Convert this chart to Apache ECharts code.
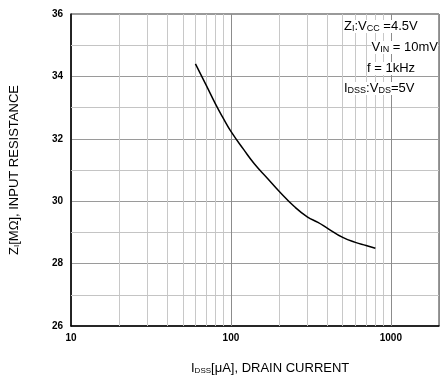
<!DOCTYPE html>
<html><head><meta charset="utf-8">
<script src="https://cdn.jsdelivr.net/npm/echarts@6/dist/echarts.min.js"></script>
<style>html,body{margin:0;padding:0;background:#fff}#c{width:440px;height:384px}</style>
</head><body><div id="c"></div>
<script>
// Data
const drainCurrent = [60, 70, 80, 90, 100, 120, 140, 170, 200, 250, 300, 350, 400, 500, 600, 700, 800];
const inputResistance = [34.4, 33.72, 33.12, 32.64, 32.24, 31.66, 31.2, 30.72, 30.32, 29.82, 29.5, 29.32, 29.14, 28.84, 28.68, 28.58, 28.49];
const xMajorGrid = [100, 1000];
const xMinorGrid = [20, 30, 40, 50, 60, 70, 80, 90, 200, 300, 400, 500, 600, 700, 800, 900];
const yMinorGrid = [27, 29, 31, 33, 35];
const xMin = 10, xMax = 2000, yMin = 26, yMax = 36, yInterval = 2;

const F = 'Liberation Sans, Arial, sans-serif';
const chart = echarts.init(document.getElementById('c'), null, {renderer: 'canvas'});

function vLines(vals, color) {
  return vals.map(v => ({xAxis: v, lineStyle: {color: color, width: 1, type: 'solid'}}));
}
function hLines(vals, color) {
  return vals.map(v => ({yAxis: v, lineStyle: {color: color, width: 1, type: 'solid'}}));
}

const sub = {fontSize: 9, fontFamily: F, color: '#000', verticalAlign: 'bottom', padding: [4, 0, 0, 0]};
const main = {fontSize: 13, fontFamily: F, color: '#000'};

chart.setOption({
  backgroundColor: '#fff',
  animation: false,
  grid: {left: 70, top: 14, right: 1, bottom: 58, show: true, borderColor: '#333', borderWidth: 1, backgroundColor: 'transparent'},
  xAxis: {
    type: 'log', logBase: 10, min: xMin, max: xMax,
    axisLine: {show: true, lineStyle: {color: '#000', width: 1.5}},
    axisTick: {show: false},
    splitLine: {show: true, lineStyle: {color: '#8c8c8c', width: 1}},
    axisLabel: {fontFamily: F, fontSize: 10, fontWeight: 'bold', color: '#000', margin: 7,
      formatter: v => String(Math.round(v)), showMaxLabel: false}
  },
  yAxis: {
    type: 'value', min: yMin, max: yMax, interval: yInterval,
    axisLine: {show: true, lineStyle: {color: '#000', width: 1.5}},
    axisTick: {show: false},
    splitLine: {show: true, lineStyle: {color: '#9a9a9a', width: 1}},
    axisLabel: {fontFamily: F, fontSize: 10, fontWeight: 'bold', color: '#000', margin: 8},
    name: '{m|Z}{s|I}{m|[MΩ], INPUT RESISTANCE}',
    nameLocation: 'middle', nameGap: 50, nameRotate: 90,
    nameTextStyle: {rich: {m: {fontSize: 13, fontFamily: F, color: '#000'}, s: {fontSize: 8, fontFamily: F, color: '#000', verticalAlign: 'bottom', padding: [5, 0, 0, 0]}}}
  },
  series: [{
    type: 'line',
    data: drainCurrent.map((x, i) => [x, inputResistance[i]]),
    smooth: 0.5, symbol: 'none',
    lineStyle: {color: '#000', width: 1.5},
    z: 5,
    markLine: {
      silent: true, symbol: 'none', label: {show: false}, animation: false,
      data: [].concat(vLines(xMinorGrid, '#c8c8c8'), hLines(yMinorGrid, '#c4c4c4'), vLines(xMajorGrid, '#8c8c8c'))
    }
  }],
  graphic: [
    {type: 'text', left: 344, top: 20, z: 10, style: {text: '{m|Z}{s|I}{m|:V}{s|CC}{m| =4.5V}', rich: {m: main, s: sub}, backgroundColor: '#fff'}},
    {type: 'text', right: 2, top: 41, z: 10, style: {text: '{m|V}{s|IN}{m| = 10mV}', rich: {m: main, s: sub}, backgroundColor: '#fff'}},
    {type: 'text', left: 367, top: 62, z: 10, style: {text: '{m|f = 1kHz}', rich: {m: main, s: sub}, backgroundColor: '#fff'}},
    {type: 'text', left: 344, top: 82, z: 10, style: {text: '{m|I}{s|DSS}{m|:V}{s|DS}{m|=5V}', rich: {m: main, s: sub}, backgroundColor: '#fff'}},
    {type: 'text', left: 191, top: 362, z: 10, style: {text: '{m|I}{s|DSS}{m|[μA], DRAIN CURRENT}', rich: {m: {fontSize: 13, fontFamily: F, color: '#000'}, s: {fontSize: 8, fontFamily: F, color: '#000', verticalAlign: 'bottom', padding: [5, 0, 0, 0]}}}}
  ]
});
</script></body></html>
